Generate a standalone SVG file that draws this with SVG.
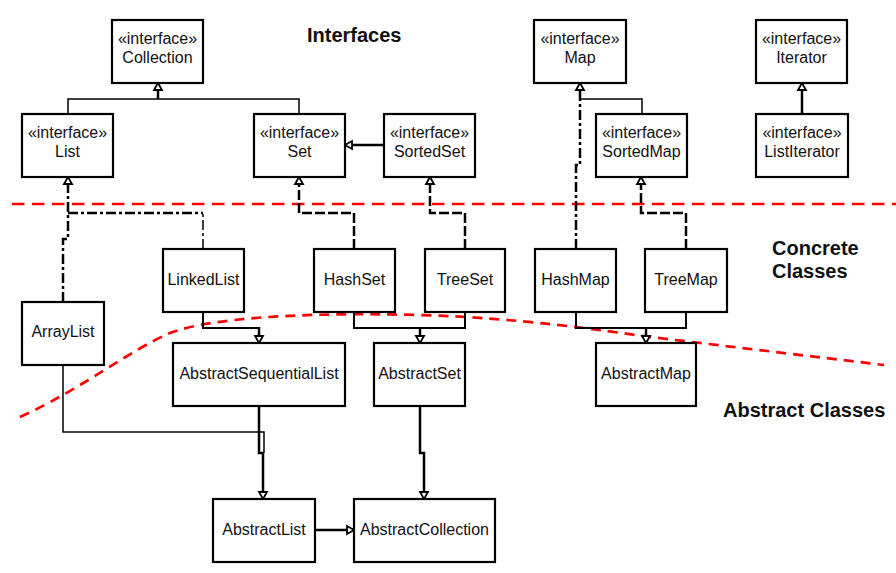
<svg xmlns="http://www.w3.org/2000/svg" width="896" height="573" viewBox="0 0 896 573">
<style>
.box{fill:#fff;stroke:#000;stroke-width:2.2}
.t{font-family:"Liberation Sans",Arial,sans-serif;font-size:16px;text-anchor:middle;fill:#111}
.h{font-family:"Liberation Sans",Arial,sans-serif;font-size:20px;font-weight:bold;fill:#111}
.c{fill:none;stroke:#000;stroke-linejoin:miter}
.thin{stroke-width:1.5}
.mid{stroke-width:2}
.thick{stroke-width:2.5}
.dd{stroke-width:2.5;stroke-dasharray:10 3 3 3}
.ddt{stroke-width:1.5;stroke-dasharray:10 3 3 3}
.da{stroke-width:2.5;stroke-dasharray:10 3}
.red{fill:none;stroke:#f00;stroke-width:2.7}
</style>
<defs>
<marker id="tri" markerUnits="userSpaceOnUse" viewBox="-9 -6 11 12" markerWidth="11" markerHeight="12" refX="0" refY="0" orient="auto">
<path d="M0,0 L-7,-4 L-7,4 Z" fill="#fff" stroke="#000" stroke-width="1.8" stroke-linejoin="miter"/>
</marker>
</defs>
<rect x="0" y="0" width="896" height="573" fill="#fff"/>

<g id="boundaries">
<path class="red" d="M12,204 H896" stroke-dasharray="12.5 7.5"/>
<path class="red" d="M20,417 C80,390 130,350 170,333 C210,318 300,312 420,315 C520,318 600,330 650,337 L884,365" stroke-dasharray="10 7"/>
</g>

<g id="headings">
<text class="h" x="307" y="42">Interfaces</text>
<text class="h" x="772" y="255">Concrete</text>
<text class="h" x="772" y="278">Classes</text>
<text class="h" x="723" y="417">Abstract Classes</text>
</g>

<g id="connectors">
<path class="c thin" d="M68,114 V99 H299 V114"/>
<path class="c thick" d="M158,99 V83" marker-end="url(#tri)"/>
<path class="c thick" d="M384,145 H345" marker-end="url(#tri)"/>
<path class="c dd" d="M63,302 V239 H68 V177" marker-end="url(#tri)"/>
<path class="c dd" d="M68,213 H203"/>
<path class="c ddt" d="M203,249 V213"/>
<path class="c da" d="M354,249 V213 H299 V177" marker-end="url(#tri)"/>
<path class="c da" d="M465,249 V213 H430 V177" marker-end="url(#tri)"/>
<path class="c thin" d="M642,114 V99 H580"/>
<path class="c dd" d="M576,249 V165 H580 V83" marker-end="url(#tri)"/>
<path class="c da" d="M686,249 V213 H641 V177" marker-end="url(#tri)"/>
<path class="c thick" d="M802,114 V83" marker-end="url(#tri)"/>
<path class="c mid" d="M203,312 V328 H259"/>
<path class="c thick" d="M259,327 V343" marker-end="url(#tri)"/>
<path class="c mid" d="M354,312 V328 H465 V312"/>
<path class="c thick" d="M420,328 V343" marker-end="url(#tri)"/>
<path class="c mid" d="M576,312 V328 H686 V312"/>
<path class="c thick" d="M646,328 V343" marker-end="url(#tri)"/>
<path class="c thin" d="M63,365 V432 H264 V453"/>
<path class="c thick" d="M259,406 V453 H263 V499" marker-end="url(#tri)"/>
<path class="c thick" d="M420,406 V453 H424 V499" marker-end="url(#tri)"/>
<path class="c thick" d="M315,530 H354" marker-end="url(#tri)"/>
</g>

<g id="Collection"><rect class="box" x="112" y="20" width="91" height="63"/><text class="t" x="157.5" y="44">«interface»</text><text class="t" x="157.5" y="63">Collection</text></g>
<g id="List"><rect class="box" x="22" y="114" width="91" height="63"/><text class="t" x="67.5" y="138">«interface»</text><text class="t" x="67.5" y="157">List</text></g>
<g id="Set"><rect class="box" x="254" y="114" width="91" height="63"/><text class="t" x="299.5" y="138">«interface»</text><text class="t" x="299.5" y="157">Set</text></g>
<g id="SortedSet"><rect class="box" x="384" y="114" width="91" height="63"/><text class="t" x="429.5" y="138">«interface»</text><text class="t" x="429.5" y="157">SortedSet</text></g>
<g id="Map"><rect class="box" x="534" y="20" width="92" height="63"/><text class="t" x="580" y="44">«interface»</text><text class="t" x="580" y="63">Map</text></g>
<g id="SortedMap"><rect class="box" x="596" y="114" width="91" height="63"/><text class="t" x="641.5" y="138">«interface»</text><text class="t" x="641.5" y="157">SortedMap</text></g>
<g id="Iterator"><rect class="box" x="756" y="20" width="91" height="63"/><text class="t" x="801.5" y="44">«interface»</text><text class="t" x="801.5" y="63">Iterator</text></g>
<g id="ListIterator"><rect class="box" x="756" y="114" width="92" height="63"/><text class="t" x="802" y="138">«interface»</text><text class="t" x="802" y="157">ListIterator</text></g>

<g id="LinkedList"><rect class="box" x="163" y="249" width="81" height="63"/><text class="t" x="203.5" y="285">LinkedList</text></g>
<g id="HashSet"><rect class="box" x="314" y="249" width="81" height="63"/><text class="t" x="354.5" y="285">HashSet</text></g>
<g id="TreeSet"><rect class="box" x="425" y="249" width="80" height="63"/><text class="t" x="465" y="285">TreeSet</text></g>
<g id="HashMap"><rect class="box" x="535" y="249" width="81" height="63"/><text class="t" x="575.5" y="285">HashMap</text></g>
<g id="TreeMap"><rect class="box" x="645" y="249" width="82" height="63"/><text class="t" x="686" y="285">TreeMap</text></g>
<g id="ArrayList"><rect class="box" x="22" y="302" width="82" height="63"/><text class="t" x="63" y="337">ArrayList</text></g>

<g id="AbstractSequentialList"><rect class="box" x="173" y="343" width="172" height="63"/><text class="t" x="259" y="379">AbstractSequentialList</text></g>
<g id="AbstractSet"><rect class="box" x="374" y="343" width="91" height="63"/><text class="t" x="419.5" y="379">AbstractSet</text></g>
<g id="AbstractMap"><rect class="box" x="596" y="343" width="100" height="63"/><text class="t" x="646" y="379">AbstractMap</text></g>
<g id="AbstractList"><rect class="box" x="213" y="499" width="102" height="63"/><text class="t" x="264" y="535">AbstractList</text></g>
<g id="AbstractCollection"><rect class="box" x="354" y="499" width="141" height="63"/><text class="t" x="424.5" y="535">AbstractCollection</text></g>
</svg>
